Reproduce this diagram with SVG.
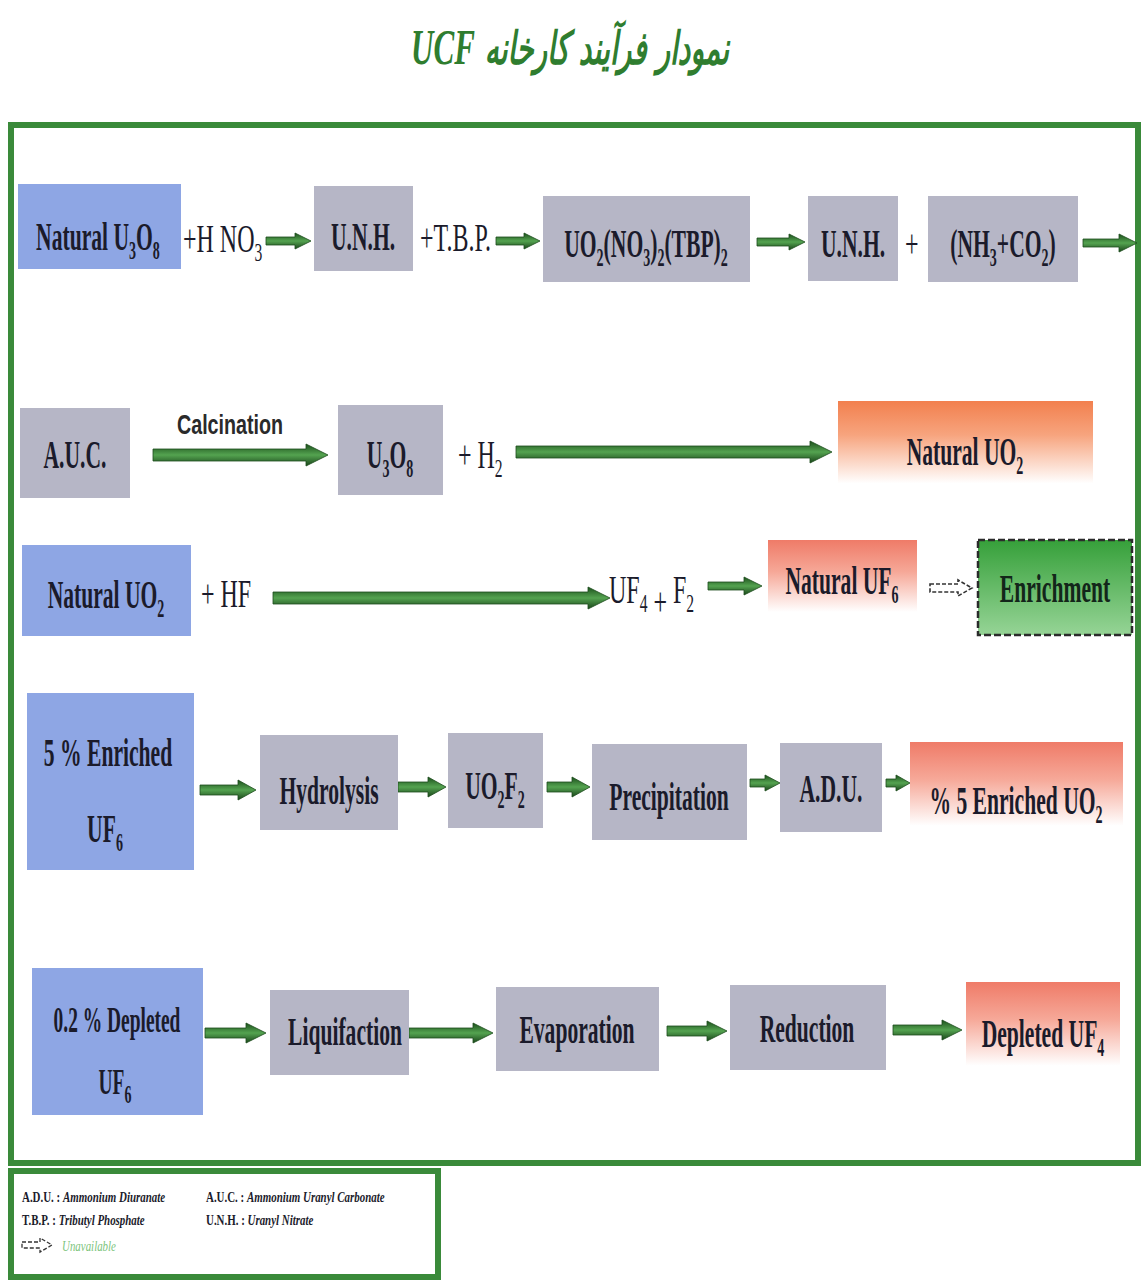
<svg xmlns="http://www.w3.org/2000/svg" width="1143" height="1280" viewBox="0 0 1143 1280">
  <style>
    .blue { fill: #8ea6e4; }
    .gray { fill: #b6b6c6; }
    .orng { fill: url(#gOrange); }
    .salm { fill: url(#gSalmon); }
    .lb { font-family: "Liberation Serif", serif; font-weight: bold; font-size: 40px; fill: #1b1b2b; text-anchor: middle; }
    .op { font-family: "Liberation Serif", serif; font-size: 40px; fill: #1b1b2b; }
    .sb { font-size: 26px; }
    .arr { fill: url(#gArrow); stroke: #1d4d1d; stroke-width: 0.8; }
    .dash { fill: none; stroke: #333; stroke-width: 1.6; stroke-dasharray: 4 2; }
    .lg { font-family: "Liberation Serif", serif; font-weight: bold; font-size: 14px; fill: #1b1b2b; }
    .lgi { font-style: italic; }
    .na { font-family: "Liberation Serif", serif; font-style: italic; font-size: 14px; fill: #7cc47c; }
  </style>
  <defs>
    <linearGradient id="gOrange" x1="0" y1="0" x2="0" y2="1">
      <stop offset="0" stop-color="#f2804e"/>
      <stop offset="0.35" stop-color="#f7a47e"/>
      <stop offset="0.85" stop-color="#ffffff"/>
    </linearGradient>
    <linearGradient id="gSalmon" x1="0" y1="0" x2="0" y2="1">
      <stop offset="0" stop-color="#ef7b68"/>
      <stop offset="0.4" stop-color="#f6a898"/>
      <stop offset="0.9" stop-color="#ffffff"/>
    </linearGradient>
    <linearGradient id="gGreen" x1="0" y1="0" x2="0" y2="1">
      <stop offset="0" stop-color="#36a03a"/>
      <stop offset="1" stop-color="#96d496"/>
    </linearGradient>
    <linearGradient id="gArrow" x1="0" y1="0" x2="0" y2="1">
      <stop offset="0" stop-color="#1c501c"/>
      <stop offset="0.5" stop-color="#54a350"/>
      <stop offset="1" stop-color="#1a461a"/>
    </linearGradient>
  </defs>

  <rect width="1143" height="1280" fill="#ffffff"/>

  <!-- title -->
  <text transform="translate(570,64) scale(0.74,1.2)" direction="rtl" text-anchor="middle" font-family="DejaVu Sans, sans-serif" font-weight="bold" font-style="italic" font-size="38" fill="#2f7d2f">نمودار فرآیند کارخانه <tspan font-family="Liberation Serif, serif" font-size="42">UCF</tspan></text>

  <!-- outer frames -->
  <rect x="11" y="125" width="1127" height="1038" fill="none" stroke="#3a8a3a" stroke-width="6"/>
  <rect x="11" y="1171" width="427" height="106" fill="#ffffff" stroke="#3a8a3a" stroke-width="6"/>

  <!-- connectors -->
  <g id="connectors">
    <polygon class="arr" points="266,237 295,237 295,233 311,241 295,249 295,245 266,245"/>
    <polygon class="arr" points="496,237 524,237 524,233 540,241 524,249 524,245 496,245"/>
    <polygon class="arr" points="757,238 789,238 789,234 805,242 789,250 789,246 757,246"/>
    <polygon class="arr" points="1083,239 1119,239 1119,234 1137,243 1119,252 1119,247 1083,247"/>
    <polygon class="arr" points="153,449 306,449 306,444 328,455 306,466 306,461 153,461"/>
    <polygon class="arr" points="516,446 810,446 810,441 832,452 810,463 810,458 516,458"/>
    <polygon class="arr" points="273,592 588,592 588,587 610,598 588,609 588,604 273,604"/>
    <polygon class="arr" points="708,582 744,582 744,577 762,586 744,595 744,590 708,590"/>
    <polygon class="dash" points="930,584 958,584 958,580 972,588 958,596 958,592 930,592"/>
    <polygon class="arr" points="200,785 238,785 238,780 256,790 238,800 238,795 200,795"/>
    <polygon class="arr" points="398,782 428,782 428,777 446,787 428,797 428,792 398,792"/>
    <polygon class="arr" points="547,782 572,782 572,777 590,787 572,797 572,792 547,792"/>
    <polygon class="arr" points="750,779 765,779 765,775 780,783 765,791 765,787 750,787"/>
    <polygon class="arr" points="886,779 896,779 896,775 910,783 896,791 896,787 886,787"/>
    <polygon class="arr" points="205,1028 246,1028 246,1023 266,1033 246,1043 246,1038 205,1038"/>
    <polygon class="arr" points="409,1028 473,1028 473,1023 493,1033 473,1043 473,1038 409,1038"/>
    <polygon class="arr" points="667,1026 707,1026 707,1021 727,1031 707,1041 707,1036 667,1036"/>
    <polygon class="arr" points="893,1025 942,1025 942,1020 962,1030 942,1040 942,1035 893,1035"/>
  </g>

  <!-- row 1 -->
  <g id="natural-u3o8">
    <rect class="blue" x="18" y="184" width="163" height="85"/>
    <text class="lb" transform="translate(98,250) scale(0.54,1)">Natural U<tspan class="sb" dy="9">3</tspan><tspan dy="-9">O</tspan><tspan class="sb" dy="9">8</tspan></text>
  </g>
  <text class="op" transform="translate(183,252) scale(0.6,1)">+H NO<tspan class="sb" dy="9">3</tspan></text>
  <g id="unh-1">
    <rect class="gray" x="314" y="186" width="99" height="85"/>
    <text class="lb" transform="translate(363,250) scale(0.54,1)">U.N.H.</text>
  </g>
  <text class="op" transform="translate(420,251) scale(0.6,1)">+T.B.P.</text>
  <g id="uo2-tbp">
    <rect class="gray" x="543" y="196" width="207" height="86"/>
    <text class="lb" transform="translate(646,257) scale(0.54,1)">UO<tspan class="sb" dy="9">2</tspan><tspan dy="-9">(NO</tspan><tspan class="sb" dy="9">3</tspan><tspan dy="-9">)</tspan><tspan class="sb" dy="9">2</tspan><tspan dy="-9">(TBP)</tspan><tspan class="sb" dy="9">2</tspan></text>
  </g>
  <g id="unh-2">
    <rect class="gray" x="808" y="196" width="90" height="85"/>
    <text class="lb" transform="translate(853,257) scale(0.54,1)">U.N.H.</text>
  </g>
  <text class="op" transform="translate(905,257) scale(0.6,1)">+</text>
  <g id="nh3-co2">
    <rect class="gray" x="928" y="196" width="150" height="86"/>
    <text class="lb" transform="translate(1003,257) scale(0.54,1)">(NH<tspan class="sb" dy="9">3</tspan><tspan dy="-9">+CO</tspan><tspan class="sb" dy="9">2</tspan><tspan dy="-9">)</tspan></text>
  </g>

  <!-- row 2 -->
  <g id="auc">
    <rect class="gray" x="20" y="408" width="110" height="90"/>
    <text class="lb" transform="translate(75,468) scale(0.54,1)">A.U.C.</text>
  </g>
  <text x="230" y="434" text-anchor="middle" font-family="Liberation Sans, sans-serif" font-weight="bold" font-size="27" fill="#2a2a2a" textLength="106" lengthAdjust="spacingAndGlyphs">Calcination</text>
  <g id="u3o8">
    <rect class="gray" x="338" y="405" width="105" height="90"/>
    <text class="lb" transform="translate(390,468) scale(0.54,1)">U<tspan class="sb" dy="9">3</tspan><tspan dy="-9">O</tspan><tspan class="sb" dy="9">8</tspan></text>
  </g>
  <text class="op" transform="translate(458,468) scale(0.6,1)">+ H<tspan class="sb" dy="9">2</tspan></text>
  <g id="natural-uo2-out">
    <rect class="orng" x="838" y="401" width="255" height="97"/>
    <text class="lb" transform="translate(965,465) scale(0.54,1)">Natural UO<tspan class="sb" dy="9">2</tspan></text>
  </g>

  <!-- row 3 -->
  <g id="natural-uo2-in">
    <rect class="blue" x="22" y="545" width="169" height="91"/>
    <text class="lb" transform="translate(106,608) scale(0.54,1)">Natural UO<tspan class="sb" dy="9">2</tspan></text>
  </g>
  <text class="op" transform="translate(201,607) scale(0.6,1)">+ HF</text>
  <text class="op" transform="translate(609,603) scale(0.6,1)">UF<tspan class="sb" dy="9">4</tspan><tspan dy="3"> + </tspan><tspan dy="-12">F</tspan><tspan class="sb" dy="9">2</tspan></text>
  <g id="natural-uf6">
    <rect class="salm" x="768" y="540" width="149" height="80"/>
    <text class="lb" transform="translate(842,594) scale(0.54,1)">Natural UF<tspan class="sb" dy="9">6</tspan></text>
  </g>
  <g id="enrichment">
    <rect x="978" y="540" width="154" height="95" fill="url(#gGreen)" stroke="#2b2b2b" stroke-width="2.5" stroke-dasharray="7 3"/>
    <text class="lb" transform="translate(1055,602) scale(0.54,1)" style="fill:#13261a">Enrichment</text>
  </g>

  <!-- row 4 -->
  <g id="enriched-uf6">
    <rect class="blue" x="27" y="693" width="167" height="177"/>
    <text class="lb" transform="translate(108,766) scale(0.54,1)">5 % Enriched</text>
    <text class="lb" transform="translate(105,842) scale(0.54,1)">UF<tspan class="sb" dy="9">6</tspan></text>
  </g>
  <g id="hydrolysis">
    <rect class="gray" x="260" y="735" width="138" height="95"/>
    <text class="lb" transform="translate(329,804) scale(0.54,1)">Hydrolysis</text>
  </g>
  <g id="uo2f2">
    <rect class="gray" x="448" y="733" width="95" height="95"/>
    <text class="lb" transform="translate(495,799) scale(0.54,1)">UO<tspan class="sb" dy="9">2</tspan><tspan dy="-9">F</tspan><tspan class="sb" dy="9">2</tspan></text>
  </g>
  <g id="precipitation">
    <rect class="gray" x="592" y="744" width="155" height="96"/>
    <text class="lb" transform="translate(669,810) scale(0.54,1)">Precipitation</text>
  </g>
  <g id="adu">
    <rect class="gray" x="780" y="743" width="102" height="89"/>
    <text class="lb" transform="translate(831,802) scale(0.54,1)">A.D.U.</text>
  </g>
  <g id="enriched-uo2">
    <rect class="salm" x="910" y="742" width="213" height="93"/>
    <text class="lb" transform="translate(1016,814) scale(0.54,1)">% 5 Enriched UO<tspan class="sb" dy="9">2</tspan></text>
  </g>

  <!-- row 5 -->
  <g id="depleted-uf6">
    <rect class="blue" x="32" y="968" width="171" height="147"/>
    <text class="lb" transform="translate(117,1032) scale(0.54,1)" style="font-size:36px">0.2 % Depleted</text>
    <text class="lb" transform="translate(115,1094) scale(0.54,1)" style="font-size:36px">UF<tspan class="sb" dy="9">6</tspan></text>
  </g>
  <g id="liquifaction">
    <rect class="gray" x="270" y="990" width="139" height="85"/>
    <text class="lb" transform="translate(345,1045) scale(0.54,1)">Liquifaction</text>
  </g>
  <g id="evaporation">
    <rect class="gray" x="496" y="987" width="163" height="84"/>
    <text class="lb" transform="translate(577,1043) scale(0.54,1)">Evaporation</text>
  </g>
  <g id="reduction">
    <rect class="gray" x="730" y="985" width="156" height="85"/>
    <text class="lb" transform="translate(807,1042) scale(0.54,1)">Reduction</text>
  </g>
  <g id="depleted-uf4">
    <rect class="salm" x="966" y="982" width="154" height="93"/>
    <text class="lb" transform="translate(1043,1047) scale(0.54,1)">Depleted UF<tspan class="sb" dy="9">4</tspan></text>
  </g>

  <!-- abbreviations -->
  <g id="legend">
    <text class="lg" transform="translate(22,1202) scale(0.78,1)">A.D.U. : <tspan class="lgi">Ammonium Diuranate</tspan></text>
    <text class="lg" transform="translate(206,1202) scale(0.78,1)">A.U.C. : <tspan class="lgi">Ammonium Uranyl Carbonate</tspan></text>
    <text class="lg" transform="translate(22,1225) scale(0.78,1)">T.B.P. : <tspan class="lgi">Tributyl Phosphate</tspan></text>
    <text class="lg" transform="translate(206,1225) scale(0.78,1)">U.N.H. : <tspan class="lgi">Uranyl Nitrate</tspan></text>
    <polygon class="dash" points="22,1242 40,1242 40,1238 52,1245 40,1252 40,1248 22,1248" style="stroke-width:1.3"/>
    <text class="na" transform="translate(62,1251) scale(0.78,1)">Unavailable</text>
  </g>
</svg>
